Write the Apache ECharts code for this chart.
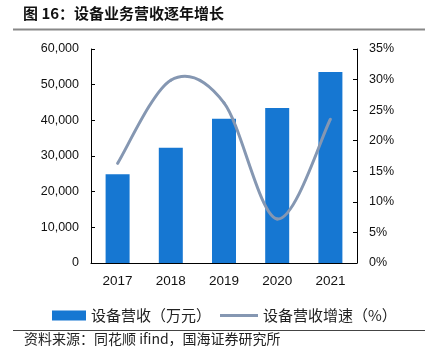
<!DOCTYPE html>
<html><head><meta charset="utf-8">
<script src="https://cdn.jsdelivr.net/npm/echarts@6/dist/echarts.min.js"></script>
<style>html,body{margin:0;padding:0;background:#fff}#c{width:425px;height:360px}</style>
</head><body><div id="c"></div>
<script>
const categories = ['2017', '2018', '2019', '2020', '2021'];
const revenue = [24900, 32300, 40450, 43450, 53570];
const growth = [16.3, 29.9, 26.2, 7.2, 23.5];
const leftTicks = {min: 0, max: 60000, interval: 10000};
const rightTicks = {min: 0, max: 35, interval: 5};
const titleText = '图 16：设备业务营收逐年增长';
const sourceText = '资料来源：同花顺 ifind，国海证券研究所';
const seriesNames = ['设备营收（万元）', '设备营收增速（%）'];

const lineColor = '#8597b2';
const chart = echarts.init(document.getElementById('c'), null, {renderer: 'canvas'});
const axisLbl = {color: '#111', fontSize: 12.5, fontFamily: 'Liberation Sans, Arial, sans-serif'};

function renderSegment(params, api) {
  const i = params.dataIndex;
  const n = growth.length;
  if (i >= n - 1) return null;
  const P = k => api.coord([Math.max(0, Math.min(n - 1, k)), growth[Math.max(0, Math.min(n - 1, k))]]);
  const p0 = P(i - 1), p1 = P(i), p2 = P(i + 1), p3 = P(i + 2);
  const c1 = [p1[0] + (p2[0] - p0[0]) / 6, p1[1] + (p2[1] - p0[1]) / 6];
  const c2 = [p2[0] - (p3[0] - p1[0]) / 6, p2[1] - (p3[1] - p1[1]) / 6];
  return {
    type: 'bezierCurve',
    shape: {x1: p1[0], y1: p1[1], cpx1: c1[0], cpy1: c1[1], cpx2: c2[0], cpy2: c2[1], x2: p2[0], y2: p2[1]},
    style: {stroke: lineColor, lineWidth: 3, fill: null, lineCap: 'round'}
  };
}

chart.setOption({
  animation: false,
  grid: {left: 91, right: 68, top: 49, bottom: 97},
  legend: [
    {left: 47, top: 303, itemWidth: 34, itemHeight: 10, icon: 'rect',
     textStyle: {fontSize: 15, color: '#222', fontFamily: 'Noto Sans CJK SC'},
     data: [seriesNames[0]]},
    {left: 215, top: 303, itemWidth: 38, itemHeight: 3, icon: 'rect',
     textStyle: {fontSize: 15, color: '#222', fontFamily: 'Noto Sans CJK SC'},
     data: [seriesNames[1]]}
  ],
  xAxis: {
    type: 'category', data: categories,
    axisLine: {lineStyle: {color: '#000', width: 1}},
    axisTick: {inside: true, length: 4, lineStyle: {color: '#000'}},
    axisLabel: Object.assign({}, axisLbl, {margin: 11, fontSize: 13.5})
  },
  yAxis: [
    {type: 'value', min: leftTicks.min, max: leftTicks.max, interval: leftTicks.interval,
     axisLine: {show: true, lineStyle: {color: '#000'}},
     axisTick: {show: true, inside: true, length: 4, lineStyle: {color: '#000'}},
     splitLine: {show: false},
     axisLabel: Object.assign({margin: 12, formatter: v => v.toLocaleString('en-US')}, axisLbl)},
    {type: 'value', min: rightTicks.min, max: rightTicks.max, interval: rightTicks.interval,
     axisLine: {show: true, lineStyle: {color: '#000'}},
     axisTick: {show: true, inside: true, length: 4, lineStyle: {color: '#000'}},
     splitLine: {show: false},
     axisLabel: Object.assign({margin: 12, formatter: v => v + '%'}, axisLbl)}
  ],
  series: [
    {name: seriesNames[0], type: 'bar', data: revenue, barWidth: 24,
     itemStyle: {color: '#1677d2'}},
    {name: seriesNames[1], type: 'custom', yAxisIndex: 1,
     data: growth.map((v, i) => [i, v]), encode: {x: 0, y: 1},
     renderItem: renderSegment, itemStyle: {color: lineColor}, z: 3}
  ],
  graphic: [
    {type: 'text', left: 23, top: 6, style: {text: titleText, font: 'bold 15px "Noto Sans CJK SC"', fill: '#111'}},
    {type: 'line', shape: {x1: 13, y1: 29.5, x2: 425, y2: 29.5}, style: {stroke: '#888', lineWidth: 2}},
    {type: 'line', shape: {x1: 13, y1: 330.5, x2: 425, y2: 330.5}, style: {stroke: '#444', lineWidth: 1}},
    {type: 'text', left: 24, top: 332, style: {text: sourceText, font: '14px "Noto Sans CJK SC"', fill: '#222'}}
  ]
});
</script></body></html>
